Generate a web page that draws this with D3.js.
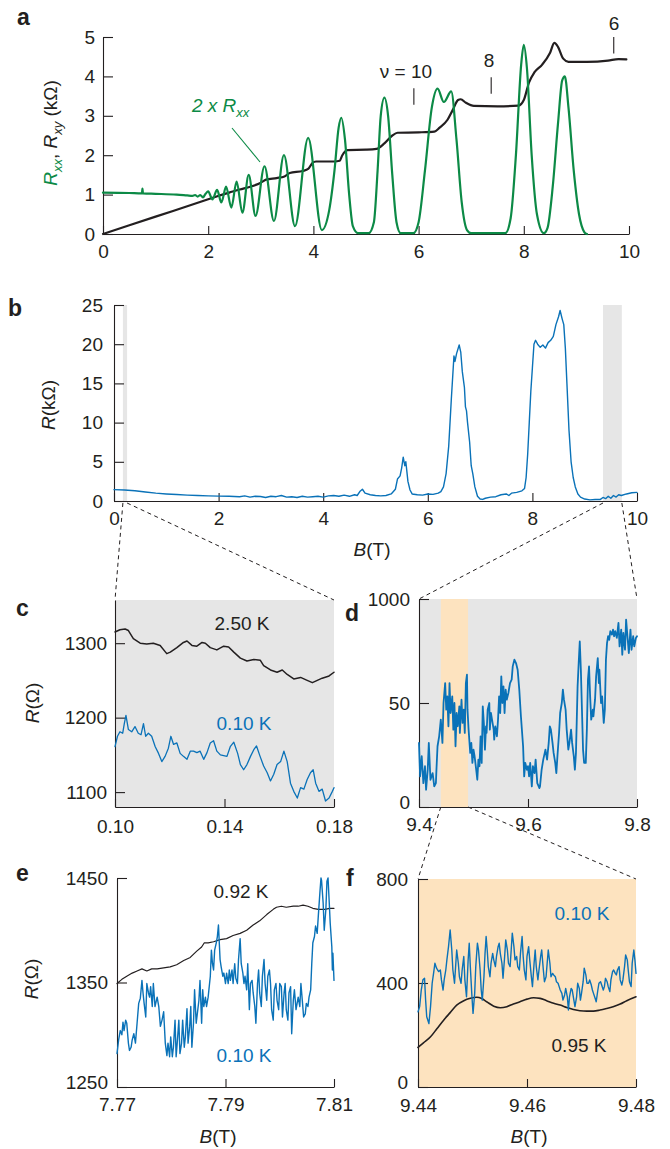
<!DOCTYPE html>
<html><head><meta charset="utf-8">
<script src="https://cdn.jsdelivr.net/npm/d3@7"></script>
<style>
body{margin:0;background:#fff}
svg{display:block}
text{font-family:"Liberation Sans",Arial,Helvetica,sans-serif;fill:#231f20}
</style>
</head><body>
<svg id="fig" width="670" height="1149"></svg>
<script>
// ---------------- DATA ----------------
// Panel a : B (T) vs kOhm
const aXTicks=[0,2,4,6,8,10];
const aYTicks=[0,1,2,3,4,5];
const aRxy=[[0,0],[1,0.44],[2,0.88],[2.2,0.97],[2.4,1.05],[2.6,1.13],[2.8,1.2],[3.0,1.3],[3.1,1.38],[3.3,1.42],[3.45,1.46],[3.55,1.55],[3.8,1.6],[3.9,1.65],[3.98,1.8],[4.05,1.84],[4.4,1.84],[4.5,1.86],[4.55,2.0],[4.65,2.13],[5.0,2.14],[5.2,2.16],[5.35,2.3],[5.5,2.5],[5.6,2.57],[6.0,2.58],[6.3,2.6],[6.4,2.7],[6.55,2.9],[6.65,3.15],[6.75,3.4],[6.8,3.42],[6.9,3.33],[7.05,3.25],[7.5,3.24],[7.9,3.26],[8.0,3.4],[8.1,3.85],[8.2,4.1],[8.35,4.3],[8.5,4.6],[8.58,4.85],[8.65,4.75],[8.75,4.45],[8.85,4.37],[9.2,4.37],[9.6,4.4],[9.8,4.44],[9.95,4.43]];
const aRxx2=[[0,1.05],[0.5,1.04],[0.74,1.03],[0.75,1.15],[0.76,1.03],[1.0,1.02],[1.4,1.0],[1.6,0.98],[1.7,0.97],[1.75,0.99],[1.8,0.95],[1.85,0.99],[1.9,0.93],[1.95,1.02],[2.0,1.08],[2.08,0.88],[2.17,1.12],[2.25,0.8],[2.34,1.2],[2.44,0.67],[2.54,1.33],[2.65,0.54],[2.77,1.5],[2.9,0.46],[3.07,1.72],[3.25,0.33],[3.44,2.0],[3.65,0.2],[3.9,2.44],[4.16,0.1],[4.3,0.6],[4.4,1.6],[4.48,2.7],[4.53,2.95],[4.6,2.4],[4.68,1.0],[4.75,0.2],[4.85,0.02],[5.05,0.02],[5.15,0.3],[5.22,1.6],[5.28,3.0],[5.35,3.46],[5.42,3.0],[5.5,1.5],[5.58,0.3],[5.66,0.02],[5.9,0.02],[6.0,0.3],[6.12,1.6],[6.25,3.2],[6.36,3.69],[6.48,3.35],[6.62,3.62],[6.72,2.4],[6.82,0.8],[6.92,0.1],[7.0,0.02],[7.65,0.02],[7.75,0.4],[7.85,2.0],[7.95,4.3],[8.0,4.8],[8.06,4.2],[8.15,2.0],[8.25,0.5],[8.38,0.02],[8.45,0.15],[8.55,1.2],[8.65,2.8],[8.73,3.9],[8.78,4.0],[8.85,3.2],[8.95,1.6],[9.05,0.5],[9.15,0.05],[9.2,0.0]];
const aNu=[{b:5.91,label:"\u03bd = 10",r:3.7},{b:7.38,label:"8",r:3.98},{b:9.71,label:"6",r:5.0}];

// Panel b : B (T) vs kOhm
const bXTicks=[0,2,4,6,8,10];
const bYTicks=[0,5,10,15,20,25];
const bBands=[[0.17,0.25],[9.35,9.71]];
const bR=[[0,1.45],[0.2,1.4],[0.4,1.3],[0.6,1.15],[0.8,1.0],[1.0,0.9],[1.2,0.82],[1.4,0.75],[1.6,0.7],[1.8,0.66],[2.0,0.62],[2.2,0.6],[2.4,0.55],[2.5,0.65],[2.6,0.5],[2.7,0.6],[2.8,0.58],[2.9,0.45],[3.0,0.6],[3.1,0.55],[3.2,0.7],[3.3,0.5],[3.4,0.55],[3.5,0.45],[3.6,0.6],[3.7,0.5],[3.8,0.55],[3.9,0.6],[4.0,0.5],[4.1,0.65],[4.2,0.7],[4.3,0.6],[4.4,0.75],[4.5,0.6],[4.6,0.8],[4.65,0.7],[4.7,1.2],[4.75,1.5],[4.8,1.0],[4.9,0.8],[5.0,0.7],[5.1,0.65],[5.2,0.7],[5.3,0.9],[5.38,1.5],[5.42,2.8],[5.47,3.2],[5.5,4.2],[5.53,5.6],[5.56,4.5],[5.58,5.0],[5.62,2.5],[5.66,1.4],[5.7,0.9],[5.8,0.8],[5.9,0.75],[6.0,0.9],[6.1,0.85],[6.2,1.0],[6.25,1.2],[6.3,1.8],[6.35,3.5],[6.4,7],[6.45,13],[6.5,18.5],[6.52,17.8],[6.55,18.8],[6.6,19.9],[6.63,19.0],[6.66,16.5],[6.7,14.5],[6.72,12],[6.74,11.5],[6.76,10],[6.8,7.5],[6.83,4.5],[6.86,3.5],[6.9,1.8],[6.95,0.6],[7.0,0.25],[7.05,0.2],[7.1,0.35],[7.2,0.5],[7.3,0.55],[7.4,0.8],[7.5,0.9],[7.55,0.7],[7.6,1.0],[7.7,1.1],[7.8,1.3],[7.85,1.6],[7.88,3],[7.91,6],[7.94,10],[7.97,14],[8.0,17],[8.03,20],[8.06,20.5],[8.1,20],[8.15,19.6],[8.2,19.9],[8.25,19.5],[8.3,20.2],[8.35,20.5],[8.4,21],[8.45,22.5],[8.5,23.5],[8.53,24.3],[8.57,23.2],[8.6,22.5],[8.63,19.5],[8.66,15],[8.7,9],[8.74,5],[8.78,3],[8.82,1.8],[8.87,0.9],[8.92,0.5],[9.0,0.25],[9.1,0.15],[9.2,0.2],[9.3,0.2],[9.35,0.45],[9.4,0.3],[9.45,0.6],[9.5,0.35],[9.55,0.7],[9.6,0.5],[9.65,0.8],[9.7,0.7],[9.8,0.9],[9.9,1.05],[10.0,1.1]];

// Panel c : B (T) vs Ohm
const cXTicks=[0.10,0.14,0.18], cXLabels=["0.10","0.14","0.18"];
const cYTicks=[1100,1200,1300];
const c250K=[[0.1000,1315],[0.1018,1318],[0.1037,1319],[0.1049,1317],[0.1067,1306],[0.1092,1300],[0.1116,1299],[0.1140,1300],[0.1165,1297],[0.1189,1286],[0.1202,1288],[0.1226,1294],[0.1250,1301],[0.1263,1303],[0.1281,1297],[0.1299,1296],[0.1318,1301],[0.1330,1300],[0.1348,1294],[0.1372,1291],[0.1397,1296],[0.1415,1295],[0.1434,1288],[0.1458,1280],[0.1482,1276],[0.1507,1278],[0.1531,1277],[0.1543,1270],[0.1568,1264],[0.1592,1261],[0.1611,1264],[0.1629,1258],[0.1653,1252],[0.1678,1254],[0.1702,1250],[0.1721,1247],[0.1739,1250],[0.1757,1253],[0.1782,1256],[0.1800,1261]];
const c010K=[[0.1000,1161],[0.1009,1175],[0.1018,1181],[0.1028,1179],[0.1034,1192],[0.1040,1203],[0.1049,1184],[0.1061,1181],[0.1073,1188],[0.1085,1179],[0.1095,1177],[0.1104,1192],[0.1112,1175],[0.1122,1179],[0.1134,1175],[0.1147,1161],[0.1159,1152],[0.1171,1141],[0.1183,1148],[0.1195,1159],[0.1204,1175],[0.1214,1164],[0.1226,1166],[0.1238,1152],[0.1250,1148],[0.1263,1144],[0.1275,1155],[0.1287,1155],[0.1299,1153],[0.1311,1155],[0.1324,1144],[0.1336,1153],[0.1348,1166],[0.1360,1169],[0.1372,1155],[0.1385,1150],[0.1397,1149],[0.1409,1148],[0.1421,1161],[0.1434,1167],[0.1448,1152],[0.1458,1137],[0.1470,1130],[0.1482,1137],[0.1495,1148],[0.1507,1157],[0.1517,1162],[0.1529,1149],[0.1543,1135],[0.1556,1126],[0.1568,1115],[0.1580,1124],[0.1592,1137],[0.1605,1141],[0.1617,1155],[0.1629,1141],[0.1641,1112],[0.1653,1101],[0.1666,1092],[0.1678,1106],[0.1690,1104],[0.1702,1117],[0.1714,1126],[0.1724,1130],[0.1733,1112],[0.1745,1101],[0.1757,1104],[0.1769,1088],[0.1782,1092],[0.1794,1101],[0.1800,1106]];

// Panel d : B (T) vs Ohm (axis labelled 0 / 50 / 1000 as in the source)
const dXTicks=[9.4,9.6,9.8], dXLabels=["9.4","9.6","9.8"];
const dYTicks=[0,50,100], dYLabels=["0","50","1000"];
const dBand=[9.44,9.49];
const d010K=[[9.400,30.8],[9.402,14.7],[9.405,24.4],[9.408,11.5],[9.411,19.6],[9.413,8.3],[9.416,17.9],[9.418,30.8],[9.421,13.1],[9.425,16.3],[9.428,9.9],[9.431,11.5],[9.432,17.9],[9.434,29.2],[9.437,34.0],[9.440,42.0],[9.443,30.8],[9.445,50.0],[9.448,59.6],[9.450,46.8],[9.452,53.2],[9.454,38.8],[9.456,59.6],[9.458,45.2],[9.461,53.2],[9.463,37.2],[9.465,50.0],[9.467,29.2],[9.469,45.2],[9.471,38.8],[9.474,48.4],[9.475,35.6],[9.478,51.6],[9.480,40.4],[9.482,46.8],[9.484,35.6],[9.486,59.6],[9.488,63.6],[9.489,46.8],[9.491,37.2],[9.494,26.0],[9.496,30.8],[9.498,21.2],[9.500,27.6],[9.502,24.4],[9.505,17.9],[9.507,13.1],[9.509,22.8],[9.511,19.6],[9.513,34.0],[9.515,21.2],[9.517,48.4],[9.519,40.4],[9.521,27.6],[9.523,38.8],[9.524,35.6],[9.526,46.8],[9.529,50.0],[9.530,37.2],[9.532,45.2],[9.534,42.0],[9.537,37.2],[9.538,32.4],[9.540,38.8],[9.543,34.0],[9.545,42.0],[9.547,53.2],[9.549,45.2],[9.551,62.8],[9.553,50.0],[9.555,58.0],[9.557,45.2],[9.559,56.4],[9.561,51.6],[9.564,54.8],[9.567,59.6],[9.570,61.2],[9.572,67.6],[9.575,70.8],[9.578,69.2],[9.581,66.0],[9.584,56.4],[9.587,43.6],[9.591,29.2],[9.593,14.7],[9.595,21.2],[9.598,17.9],[9.600,19.6],[9.602,14.7],[9.604,21.2],[9.607,9.9],[9.609,19.6],[9.612,16.3],[9.614,22.8],[9.617,11.5],[9.621,9.1],[9.622,9.9],[9.625,17.9],[9.628,22.8],[9.632,27.6],[9.635,22.8],[9.638,30.8],[9.640,38.8],[9.642,37.2],[9.645,30.8],[9.647,26.0],[9.650,21.2],[9.652,16.3],[9.654,24.4],[9.657,35.6],[9.659,45.2],[9.662,50.0],[9.664,56.4],[9.666,51.6],[9.669,46.8],[9.671,37.2],[9.674,27.6],[9.676,30.8],[9.679,37.2],[9.681,30.8],[9.684,24.4],[9.686,17.9],[9.688,26.0],[9.691,58.0],[9.693,69.2],[9.695,79.6],[9.697,66.0],[9.699,46.8],[9.701,27.6],[9.703,21.2],[9.706,21.2],[9.708,37.2],[9.710,61.2],[9.712,67.6],[9.714,53.2],[9.716,42.0],[9.719,46.8],[9.720,43.6],[9.723,51.6],[9.725,62.8],[9.728,71.6],[9.730,59.6],[9.731,66.0],[9.734,50.0],[9.736,53.2],[9.739,40.4],[9.741,46.8],[9.743,70.8],[9.745,78.8],[9.747,82.1],[9.749,80.4],[9.751,84.5],[9.754,82.9],[9.756,85.3],[9.758,82.1],[9.760,84.5],[9.763,81.3],[9.766,88.5],[9.768,77.2],[9.771,85.3],[9.773,73.2],[9.775,83.7],[9.778,75.6],[9.780,90.1],[9.783,80.4],[9.785,74.0],[9.788,85.3],[9.790,75.6],[9.793,82.1],[9.795,77.2],[9.798,81.3],[9.800,82.1]];

// Panel e : B (T) vs Ohm
const eXTicks=[7.77,7.79,7.81], eXLabels=["7.77","7.79","7.81"];
const eYTicks=[1250,1350,1450];
const e092K=[[7.7700,1349],[7.7709,1353],[7.7718,1356],[7.7728,1359],[7.7737,1361],[7.7746,1363],[7.7755,1361],[7.7764,1363],[7.7774,1363],[7.7786,1364],[7.7798,1365],[7.7810,1367],[7.7823,1371],[7.7835,1374],[7.7847,1380],[7.7856,1384],[7.7861,1388],[7.7868,1388],[7.7878,1389],[7.7890,1391],[7.7902,1392],[7.7914,1395],[7.7927,1397],[7.7939,1400],[7.7951,1405],[7.7963,1409],[7.7976,1415],[7.7988,1420],[7.7994,1422],[7.8003,1423],[7.8012,1422],[7.8025,1423],[7.8034,1423],[7.8043,1424],[7.8052,1423],[7.8061,1421],[7.8071,1420],[7.8083,1420],[7.8092,1421],[7.8100,1421]];
const e010K=[[7.7700,1282],[7.7703,1295],[7.7706,1304],[7.7709,1300],[7.7711,1312],[7.7713,1304],[7.7716,1314],[7.7718,1311],[7.7721,1292],[7.7723,1285],[7.7726,1288],[7.7728,1295],[7.7731,1301],[7.7734,1292],[7.7737,1311],[7.7740,1330],[7.7743,1335],[7.7746,1352],[7.7748,1340],[7.7750,1330],[7.7753,1317],[7.7755,1349],[7.7758,1340],[7.7760,1336],[7.7762,1346],[7.7765,1327],[7.7767,1349],[7.7770,1327],[7.7774,1336],[7.7777,1327],[7.7780,1308],[7.7783,1314],[7.7786,1322],[7.7789,1292],[7.7792,1280],[7.7794,1292],[7.7797,1279],[7.7799,1298],[7.7802,1279],[7.7804,1288],[7.7807,1314],[7.7809,1279],[7.7811,1292],[7.7814,1314],[7.7816,1282],[7.7819,1292],[7.7821,1314],[7.7824,1288],[7.7826,1298],[7.7829,1325],[7.7831,1292],[7.7834,1308],[7.7836,1327],[7.7838,1288],[7.7841,1311],[7.7843,1343],[7.7846,1311],[7.7848,1320],[7.7851,1333],[7.7853,1352],[7.7856,1311],[7.7858,1343],[7.7860,1327],[7.7863,1336],[7.7865,1327],[7.7868,1336],[7.7872,1356],[7.7874,1381],[7.7876,1368],[7.7878,1362],[7.7880,1381],[7.7883,1388],[7.7885,1394],[7.7887,1405],[7.7890,1372],[7.7892,1365],[7.7895,1356],[7.7897,1359],[7.7900,1349],[7.7902,1359],[7.7905,1349],[7.7907,1362],[7.7909,1352],[7.7912,1362],[7.7914,1349],[7.7917,1368],[7.7919,1354],[7.7922,1349],[7.7924,1372],[7.7927,1392],[7.7929,1368],[7.7932,1359],[7.7934,1349],[7.7936,1356],[7.7939,1343],[7.7941,1368],[7.7944,1324],[7.7946,1349],[7.7949,1352],[7.7951,1340],[7.7954,1327],[7.7956,1311],[7.7959,1349],[7.7961,1362],[7.7963,1340],[7.7966,1327],[7.7968,1356],[7.7971,1372],[7.7973,1349],[7.7976,1333],[7.7978,1356],[7.7981,1362],[7.7983,1349],[7.7985,1324],[7.7988,1314],[7.7990,1343],[7.7993,1349],[7.7995,1333],[7.7998,1324],[7.8000,1349],[7.8003,1346],[7.8005,1317],[7.8008,1340],[7.8010,1349],[7.8012,1324],[7.8015,1314],[7.8017,1340],[7.8020,1346],[7.8022,1301],[7.8025,1333],[7.8027,1343],[7.8030,1324],[7.8032,1330],[7.8034,1336],[7.8037,1327],[7.8039,1349],[7.8042,1330],[7.8044,1317],[7.8047,1320],[7.8049,1330],[7.8052,1327],[7.8054,1336],[7.8057,1343],[7.8059,1368],[7.8061,1388],[7.8064,1394],[7.8066,1404],[7.8069,1397],[7.8071,1413],[7.8074,1436],[7.8076,1450],[7.8077,1448],[7.8080,1426],[7.8082,1400],[7.8085,1420],[7.8087,1447],[7.8089,1450],[7.8091,1429],[7.8093,1407],[7.8096,1384],[7.8097,1362],[7.8098,1378],[7.8100,1352]];

// Panel f : B (T) vs Ohm
const fXTicks=[9.44,9.46,9.48], fXLabels=["9.44","9.46","9.48"];
const fYTicks=[0,400,800];
const f095K=[[9.4400,152],[9.4410,170],[9.4423,193],[9.4435,225],[9.4447,257],[9.4459,286],[9.4471,315],[9.4484,332],[9.4496,341],[9.4508,345],[9.4517,340],[9.4526,328],[9.4539,311],[9.4551,305],[9.4563,309],[9.4575,319],[9.4587,328],[9.4600,338],[9.4612,343],[9.4624,341],[9.4636,332],[9.4649,322],[9.4661,315],[9.4673,306],[9.4685,298],[9.4697,293],[9.4710,292],[9.4722,292],[9.4734,296],[9.4746,302],[9.4758,309],[9.4771,319],[9.4783,332],[9.4800,347]];
const f010K=[[9.4400,289],[9.4403,309],[9.4406,373],[9.4409,412],[9.4412,418],[9.4414,334],[9.4416,270],[9.4420,244],[9.4423,309],[9.4426,399],[9.4429,444],[9.4431,476],[9.4434,457],[9.4436,450],[9.4438,444],[9.4441,450],[9.4443,412],[9.4446,373],[9.4448,412],[9.4451,450],[9.4453,489],[9.4456,540],[9.4459,604],[9.4462,527],[9.4464,450],[9.4467,399],[9.4469,463],[9.4471,527],[9.4474,476],[9.4476,424],[9.4479,399],[9.4481,450],[9.4484,502],[9.4486,412],[9.4489,347],[9.4492,489],[9.4494,553],[9.4496,463],[9.4499,347],[9.4501,283],[9.4504,360],[9.4506,463],[9.4509,553],[9.4511,527],[9.4514,450],[9.4516,373],[9.4518,334],[9.4521,424],[9.4523,514],[9.4525,579],[9.4527,527],[9.4529,463],[9.4532,424],[9.4534,476],[9.4537,514],[9.4539,489],[9.4542,463],[9.4544,502],[9.4547,540],[9.4549,553],[9.4551,514],[9.4554,476],[9.4556,418],[9.4559,502],[9.4561,566],[9.4564,527],[9.4566,476],[9.4569,463],[9.4571,527],[9.4573,592],[9.4576,540],[9.4578,489],[9.4581,502],[9.4583,463],[9.4586,450],[9.4588,514],[9.4591,579],[9.4593,502],[9.4595,450],[9.4598,412],[9.4600,502],[9.4603,540],[9.4605,489],[9.4608,424],[9.4610,386],[9.4613,476],[9.4615,527],[9.4617,463],[9.4620,412],[9.4622,450],[9.4625,502],[9.4627,527],[9.4630,450],[9.4632,405],[9.4635,424],[9.4637,476],[9.4639,527],[9.4642,476],[9.4644,424],[9.4647,437],[9.4649,431],[9.4652,424],[9.4654,405],[9.4657,399],[9.4659,386],[9.4661,373],[9.4664,360],[9.4666,334],[9.4669,354],[9.4671,379],[9.4674,347],[9.4676,296],[9.4678,347],[9.4681,379],[9.4683,373],[9.4686,334],[9.4688,309],[9.4691,347],[9.4693,399],[9.4696,379],[9.4698,334],[9.4700,360],[9.4703,405],[9.4705,457],[9.4708,431],[9.4710,399],[9.4713,399],[9.4715,412],[9.4718,392],[9.4720,373],[9.4722,360],[9.4725,341],[9.4727,328],[9.4730,373],[9.4732,399],[9.4735,405],[9.4737,392],[9.4740,373],[9.4742,386],[9.4744,418],[9.4747,405],[9.4749,386],[9.4752,367],[9.4754,412],[9.4757,444],[9.4759,450],[9.4762,437],[9.4764,431],[9.4766,450],[9.4769,463],[9.4771,412],[9.4774,392],[9.4776,412],[9.4779,463],[9.4781,508],[9.4784,489],[9.4786,444],[9.4788,405],[9.4791,386],[9.4793,476],[9.4796,527],[9.4798,489],[9.4800,437]];

// ---------------- DRAWING ----------------
const INK="#231f20", BLUE="#0a72b8", GREEN="#0c8a46", GRAY="#e6e6e6", ORANGE="#fde3bf";
const FS=19;
const svg=d3.select("#fig");

function makePanel(p){
  const x=d3.scaleLinear().domain(p.xd).range([p.left,p.right]);
  const y=d3.scaleLinear().domain(p.yd).range([p.bottom,p.top]);
  const g=svg.append("g");
  if(p.bg) g.append("rect").attr("x",p.left).attr("y",p.top).attr("width",p.right-p.left).attr("height",p.bottom-p.top).attr("fill",p.bg);
  if(p.bands) p.bands.forEach(b=>g.append("rect").attr("x",x(b[0])).attr("y",p.top).attr("width",x(b[1])-x(b[0])).attr("height",p.bottom-p.top).attr("fill",b[2]));
  const ax=d3.axisBottom(x).tickValues(p.xt).tickFormat((d,i)=>p.xl?p.xl[i]:d).tickSizeInner(-8).tickSizeOuter(0).tickPadding(p.xpad);
  const gx=g.append("g").attr("transform",`translate(0,${p.bottom})`).call(ax);
  const ay=d3.axisLeft(y).tickValues(p.yt).tickFormat((d,i)=>p.yl?p.yl[i]:d).tickSizeInner(-10).tickSizeOuter(0).tickPadding(p.ypad);
  const gy=g.append("g").attr("transform",`translate(${p.left},0)`).call(ay);
  [gx,gy].forEach(a=>{
    a.attr("font-size",null).attr("font-family",null);
    a.selectAll("path,line").attr("stroke",INK).attr("stroke-width",1.1);
    a.selectAll("text").attr("fill",INK).style("font-size",FS+"px");
  });
  if(p.y0up) gy.selectAll(".tick").filter(d=>d===p.yd[0]).select("text").attr("dy","0.1em");
  return {x,y,g,p};
}
function trace(P,data,color,w,curve){
  P.g.append("path").datum(data)
    .attr("d",d3.line().x(d=>P.x(d[0])).y(d=>P.y(d[1])).curve(curve||d3.curveLinear))
    .attr("fill","none").attr("stroke",color).attr("stroke-width",w)
    .attr("stroke-linejoin","round").attr("stroke-linecap","round");
}
function label(x,y,s,o){
  o=o||{};
  return svg.append("text").attr("x",x).attr("y",y).attr("text-anchor",o.anchor||"middle")
    .style("font-size",(o.size||FS)+"px").style("font-weight",o.bold?"bold":null)
    .attr("fill",o.color||INK).style("fill",o.color||INK).text(s);
}
function richText(x,y,parts,rot,anchor){
  const t=svg.append("text").attr("text-anchor",anchor||"middle").style("font-size",FS+"px")
    .attr("transform",`translate(${x},${y})`+(rot?` rotate(${rot})`:""));
  parts.forEach(p=>{
    const s=t.append("tspan").text(p.t).style("fill",p.c||INK);
    if(p.i) s.style("font-style","italic");
    if(p.fs) s.style("font-size",p.fs+"px");
    if(p.dy) s.attr("dy",p.dy);
  });
  return t;
}
function dashed(x1,y1,x2,y2){
  svg.append("line").attr("x1",x1).attr("y1",y1).attr("x2",x2).attr("y2",y2)
    .attr("stroke",INK).attr("stroke-width",1).attr("stroke-dasharray","4,3.5");
}

// ---- panel a
const A=makePanel({left:103,right:629,top:37,bottom:234,xd:[0,10],yd:[0,5],xt:aXTicks,yt:aYTicks,xpad:11,ypad:8});
trace(A,aRxy,INK,2.2,d3.curveMonotoneX);
trace(A,aRxx2,GREEN,2.2,d3.curveMonotoneX);
aNu.forEach(n=>{
  A.g.append("line").attr("x1",A.x(n.b)).attr("x2",A.x(n.b)).attr("y1",A.y(n.r)).attr("y2",A.y(n.r-0.42)).attr("stroke",INK).attr("stroke-width",1.1);
});
label(406,78,"\u03bd = 10");
label(489,67,"8");
label(614,30,"6");
richText(192,112,[{t:"2 x R",c:GREEN,i:1},{t:"xx",c:GREEN,i:1,fs:13,dy:5}],0,"start");
svg.append("line").attr("x1",232).attr("y1",128).attr("x2",260).attr("y2",162).attr("stroke",GREEN).attr("stroke-width",1.1);
richText(57,133,[{t:"R",c:GREEN,i:1},{t:"xx",c:GREEN,i:1,fs:13,dy:5},{t:", ",dy:-5},{t:"R",i:1},{t:"xy",i:1,fs:13,dy:5},{t:" (k\u03a9)",dy:-5}],-90);
label(17,25,"a",{bold:1,size:23,anchor:"start"});

// ---- panel b
const Bp=makePanel({left:114,right:637,top:305,bottom:501,xd:[0,10],yd:[0,25],xt:bXTicks,yt:bYTicks,xpad:11,ypad:11,
  bands:bBands.map(b=>[b[0],b[1],GRAY])});
trace(Bp,bR,BLUE,1.4);
richText(55,405,[{t:"R",i:1},{t:"(k\u03a9)"}],-90);
richText(372,556,[{t:"B",i:1},{t:"(T)"}],0);
label(8,316,"b",{bold:1,size:23,anchor:"start"});

// ---- panel c
const C=makePanel({left:115,right:334,top:600,bottom:807,xd:[0.10,0.18],yd:[1080,1358],xt:cXTicks,xl:cXLabels,yt:cYTicks,xpad:13,ypad:8,bg:GRAY});
trace(C,c250K,INK,1.5);
trace(C,c010K,BLUE,1.3);
label(242,630,"2.50 K");
label(244,730,"0.10 K",{color:BLUE});
richText(39,703,[{t:"R",i:1},{t:"(\u03a9)"}],-90);
label(16,616,"c",{bold:1,size:23,anchor:"start"});

// ---- panel d
const D=makePanel({left:419,right:637,top:599,bottom:807,xd:[9.4,9.8],yd:[0,100],xt:dXTicks,xl:dXLabels,yt:dYTicks,yl:dYLabels,xpad:11,ypad:9,bg:GRAY,y0up:1,
  bands:[[dBand[0],dBand[1],ORANGE]]});
trace(D,d010K,BLUE,1.8);
label(345,621,"d",{bold:1,size:23,anchor:"start"});

// ---- panel e
const E=makePanel({left:117,right:334,top:878,bottom:1087,xd:[7.77,7.81],yd:[1250,1450],xt:eXTicks,xl:eXLabels,yt:eYTicks,xpad:11,ypad:9,y0up:1});
trace(E,e092K,INK,1.2);
trace(E,e010K,BLUE,1.4);
label(241,898,"0.92 K");
label(244,1062,"0.10 K",{color:BLUE});
richText(38,979,[{t:"R",i:1},{t:"(\u03a9)"}],-90);
richText(218,1143,[{t:"B",i:1},{t:"(T)"}],0);
label(16,881,"e",{bold:1,size:23,anchor:"start"});

// ---- panel f
const F=makePanel({left:418,right:636,top:879,bottom:1087,xd:[9.44,9.48],yd:[0,800],xt:fXTicks,xl:fXLabels,yt:fYTicks,xpad:12,ypad:10,bg:ORANGE,y0up:1});
trace(F,f095K,INK,1.6,d3.curveMonotoneX);
trace(F,f010K,BLUE,1.4);
label(582,920,"0.10 K",{color:BLUE});
label(579,1052,"0.95 K");
richText(529,1143,[{t:"B",i:1},{t:"(T)"}],0);
label(346,886,"f",{bold:1,size:23,anchor:"start"});

// ---- zoom connectors
const by=Bp.p.bottom+2;
dashed(Bp.x(bBands[0][0]),by,C.p.left,C.p.top);
dashed(Bp.x(bBands[0][1]),by,C.p.right,C.p.top);
dashed(Bp.x(bBands[1][0]),by,D.p.left,D.p.top);
dashed(Bp.x(bBands[1][1]),by,D.p.right,D.p.top);
dashed(D.x(dBand[0]),D.p.bottom,F.p.left,F.p.top);
dashed(D.x(dBand[1]),D.p.bottom,F.p.right,F.p.top);
</script>
</body></html>
